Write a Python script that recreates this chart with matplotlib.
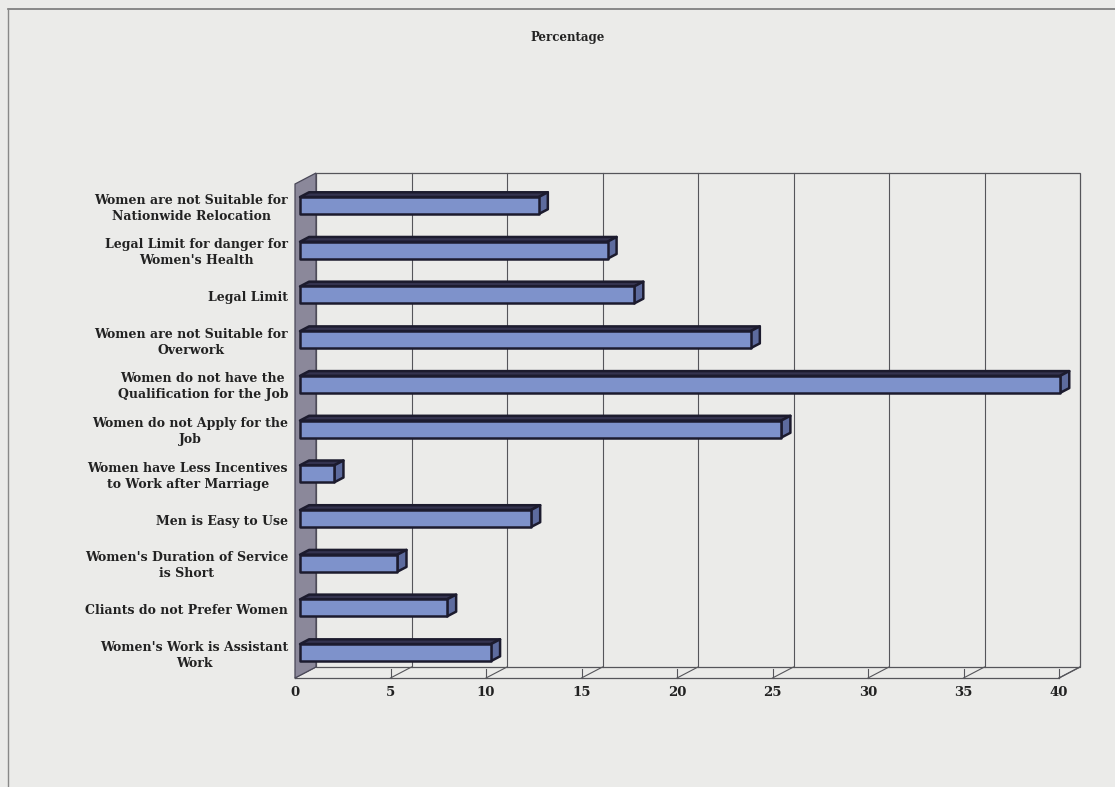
import matplotlib.pyplot as plt
from matplotlib.patches import Polygon

categories = [
    "Women are not Suitable for\nNationwide Relocation",
    "Legal Limit for danger for\nWomen's Health",
    "Legal Limit",
    "Women are not Suitable for\nOverwork",
    "Women do not have the\nQualification for the Job",
    "Women do not Apply for the\nJob",
    "Women have Less Incentives\nto Work after Marriage",
    "Men is Easy to Use",
    "Women's Duration of Service\nis Short",
    "Cliants do not Prefer Women",
    "Women's Work is Assistant\nWork",
]
values = [12.5, 16.1, 17.5, 23.6, 39.8, 25.2, 1.8, 12.1, 5.1, 7.7, 10.0]
ticks = [0, 5, 10, 15, 20, 25, 30, 35, 40]
title = "Percentage"

W, H = 1115, 787
bg = '#ebebe9'
fig = plt.figure(figsize=(W / 100, H / 100), dpi=100)
fig.set_facecolor(bg)

# front plane of the 3d box in pixels
x0, x1 = 295, 1059
ytop, ybot = 184, 678
ax = fig.add_axes([x0 / W, 1 - ybot / H, (x1 - x0) / W, (ybot - ytop) / H])
ax.set_xlim(0, 40)
ax.set_ylim(len(categories) - 0.5 + 0.01, -0.54)
ax.axis('off')

pxu = (x1 - x0) / 40.0
pyu = (ybot - ytop) / (len(categories) + 0.05)
DX = 21 / pxu      # depth offset in data units
DY = -11 / pyu
ylo, yhi = ax.get_ylim()

def dpt(x, y, t):
    return (x + t * DX, y + t * DY)

line = '#55555a'
# outer frame
fig.add_artist(plt.Line2D([8 / W, 1], [1 - 9 / H, 1 - 9 / H], color='#777777', lw=1.2))
fig.add_artist(plt.Line2D([8 / W, 8 / W], [0, 1 - 9 / H], color='#888888', lw=1.0))

# back wall
ax.add_patch(Polygon([dpt(0, ylo, 1), dpt(40, ylo, 1), dpt(40, yhi, 1), dpt(0, yhi, 1)],
                     closed=True, fc=bg, ec=line, lw=0.9, clip_on=False, zorder=1))
for t in ticks[1:-1]:
    ax.plot(*zip(dpt(t, ylo, 1), dpt(t, yhi, 1)), color=line, lw=0.8, clip_on=False, zorder=1)

# floor
ax.plot([0, 40], [ylo, ylo], color=line, lw=0.9, clip_on=False, zorder=1)
ax.plot(*zip(dpt(40, ylo, 0), dpt(40, ylo, 1)), color=line, lw=0.9, clip_on=False, zorder=1)
for t in ticks:
    ax.plot(*zip(dpt(t, ylo, 0), dpt(t, ylo, 1)), color=line, lw=0.8, clip_on=False, zorder=1)
    ax.plot([t, t], [ylo, ylo - 9 / pyu], color=line, lw=0.8, clip_on=False, zorder=1)
    ax.text(t, ylo + 14 / pyu, str(t), ha='center', va='center', family='DejaVu Serif',
            fontsize=9.5, fontweight='bold', color='#222222')

# left wall
ax.add_patch(Polygon([dpt(0, ylo, 0), dpt(0, ylo, 1), dpt(0, yhi, 1), dpt(0, yhi, 0)],
                     closed=True, fc='#8b889a', ec='#4a4858', lw=0.9, clip_on=False, zorder=2))

# bars
t1, t2 = 0.24, 0.67
h = 17 / pyu
edge = '#1c1b2e'
for i, v in enumerate(values):
    top, bot = i - h / 2, i + h / 2
    front = [dpt(0, bot, t1), dpt(v, bot, t1), dpt(v, top, t1), dpt(0, top, t1)]
    topface = [dpt(0, top, t1), dpt(v, top, t1), dpt(v, top, t2), dpt(0, top, t2)]
    cap = [dpt(v, bot, t1), dpt(v, bot, t2), dpt(v, top, t2), dpt(v, top, t1)]
    ax.add_patch(Polygon(topface, closed=True, fc='#34334f', ec=edge, lw=1.8,
                         joinstyle='round', clip_on=False, zorder=3))
    ax.add_patch(Polygon(cap, closed=True, fc='#5d6b9e', ec=edge, lw=1.8,
                         joinstyle='round', clip_on=False, zorder=3))
    ax.add_patch(Polygon(front, closed=True, fc='#7e92cb', ec=edge, lw=1.8,
                         joinstyle='round', clip_on=False, zorder=4))
    ax.text(-7 / pxu, i, categories[i], ha='right', va='center', ma='center',
            family='DejaVu Serif', fontsize=9, fontweight='bold', color='#222222',
            linespacing=1.3)

fig.text(568 / W, 1 - 38 / H, title, ha='center', va='center', family='DejaVu Serif',
         fontsize=8.5, fontweight='bold', color='#222222')

fig.savefig('out.png', dpi=100, facecolor=bg)
